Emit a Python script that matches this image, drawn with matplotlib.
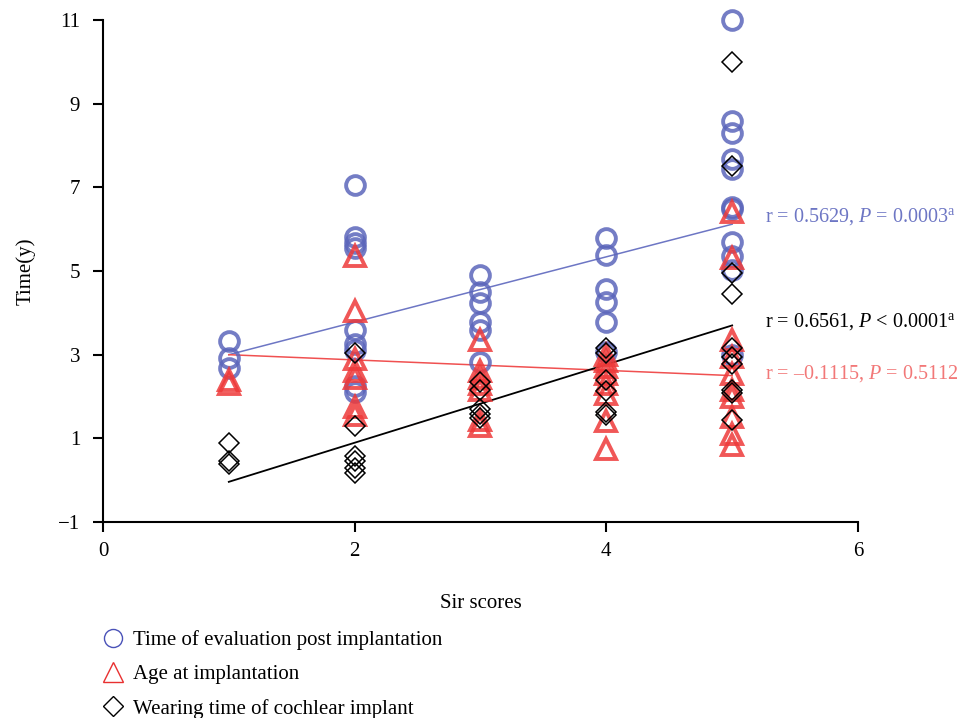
import matplotlib
matplotlib.use('Agg')
import matplotlib.pyplot as plt
from matplotlib.lines import Line2D

plt.rcParams['font.family'] = ['Liberation Serif', 'DejaVu Serif']
plt.rcParams['mathtext.fontset'] = 'custom'
plt.rcParams['mathtext.rm'] = 'Liberation Serif'
plt.rcParams['mathtext.it'] = 'Liberation Serif:italic'

# Time of evaluation post implantation (circles)
eval_x = [1, 1, 1,
          2, 2, 2, 2, 2, 2, 2, 2, 2,
          3, 3, 3, 3, 3, 3,
          4, 4, 4, 4, 4, 4,
          5, 5, 5, 5, 5, 5, 5, 5, 5, 5, 5]
eval_y = [3.33, 2.92, 2.68,
          7.05, 5.82, 5.68, 5.55, 3.6, 3.25, 3.12, 2.25, 2.1,
          4.9, 4.5, 4.23, 3.78, 3.6, 2.82,
          5.8, 5.38, 4.58, 4.27, 3.78, 3.07,
          11.0, 8.58, 8.3, 7.68, 7.45, 6.52, 6.48, 5.7, 5.35, 5.03, 3.0]

# Age at implantation (triangles)
age_x = [1, 1,
         2, 2, 2, 2, 2, 2, 2,
         3, 3, 3, 3, 3, 3, 3,
         4, 4, 4, 4, 4, 4, 4, 4,
         5, 5, 5, 5, 5, 5, 5, 5, 5, 5]
age_y = [2.4, 2.3,
         5.35, 4.05, 2.9, 2.6, 2.45, 1.75, 1.55,
         3.35, 2.62, 2.45, 2.3, 2.15, 1.45, 1.3,
         3.0, 2.85, 2.7, 2.55, 2.3, 2.05, 1.42, 0.75,
         6.4, 5.3, 3.35, 2.95, 2.55, 2.15, 2.0, 1.5, 1.1, 0.85]

# Wearing time of cochlear implant (diamonds)
wear_x = [1, 1, 1,
          2, 2, 2, 2, 2, 2,
          3, 3, 3, 3, 3,
          4, 4, 4, 4, 4, 4,
          5, 5, 5, 5, 5, 5, 5, 5, 5, 5]
wear_y = [0.9, 0.45, 0.38,
          3.05, 1.3, 0.58, 0.45, 0.3, 0.18,
          2.35, 2.15, 1.7, 1.58, 1.48,
          3.15, 3.05, 2.4, 2.12, 1.62, 1.55,
          10.0, 7.5, 4.95, 4.45, 3.15, 2.95, 2.78, 2.15, 2.08, 1.45]

# fitted lines (end points)
fit_x = [1, 5]
fit_eval = [3.0, 6.12]
fit_age = [3.0, 2.5]
fit_wear = [-0.04, 3.7]

labels = ['Time of evaluation post implantation',
          'Age at implantation',
          'Wearing time of cochlear implant']

blue = '#5c66bb'
red = '#ee3a3a'
blue_txt = '#6d76c4'
red_txt = '#f27878'

fig = plt.figure(figsize=(9.66, 7.18), dpi=100)
ax = fig.add_axes([0.1066, 0.273, 0.7816, 0.699])

ax.plot(fit_x, fit_eval, color=blue_txt, lw=1.1, zorder=1)
ax.plot(fit_x, fit_age, color='#f05050', lw=1.1, zorder=1)
ax.plot(fit_x, fit_wear, color='black', lw=1.3, zorder=1)

ax.plot(eval_x, eval_y, 'o', ms=13.5, mfc='none', mec=blue, mew=2.8,
        alpha=0.85, clip_on=False, zorder=2)
ax.plot(age_x, age_y, '^', ms=14, mfc='none', mec=red, mew=2.8,
        alpha=0.85, clip_on=False, zorder=3)
ax.plot(wear_x, wear_y, 'D', ms=10, mfc='none', mec='black', mew=1.1,
        clip_on=False, zorder=4)

ax.set_xlim(0, 6)
ax.set_ylim(-1, 11)
ax.set_xticks([0, 2, 4, 6])
ax.set_yticks([-1, 1, 3, 5, 7, 9, 11])
ax.set_yticklabels(['\u22121', '1', '3', '5', '7', '9', '11'])
ax.spines['top'].set_visible(False)
ax.spines['right'].set_visible(False)
for s in ['left', 'bottom']:
    ax.spines[s].set_linewidth(1.5)
ax.tick_params(direction='out', length=7.5, width=1.5, labelsize=15)
ax.tick_params(axis='y', pad=9)
ax.tick_params(axis='x', pad=7)
ax.set_xlabel('Sir scores', fontsize=15, labelpad=24)
ax.set_ylabel('Time(y)', fontsize=15, labelpad=16)

ax.text(5.26, 6.3, 'r = 0.5629, $P$ = 0.0003$^{\\mathrm{a}}$', color=blue_txt,
        fontsize=14.5, va='center', ha='left', clip_on=False)
ax.text(5.26, 3.8, 'r = 0.6561, $P$ < 0.0001$^{\\mathrm{a}}$', color='black',
        fontsize=14.5, va='center', ha='left', clip_on=False)
ax.text(5.26, 2.55, 'r = \u20130.1115, $P$ = 0.5112', color=red_txt,
        fontsize=14.5, va='center', ha='left', clip_on=False)

handles = [
    Line2D([], [], ls='none', marker='o', ms=13, mfc='none', mec='#4a52b8', mew=1.0),
    Line2D([], [], ls='none', marker='^', ms=14, mfc='none', mec='#e83030', mew=1.0),
    Line2D([], [], ls='none', marker='D', ms=10, mfc='none', mec='black', mew=1.0),
]
fig.legend(handles, labels, loc='upper left', bbox_to_anchor=(0.098, 0.134),
           frameon=False, fontsize=15, handlelength=1.0, handletextpad=0.45,
           labelspacing=0.7, borderaxespad=0)

fig.savefig('out.png', dpi=100)
